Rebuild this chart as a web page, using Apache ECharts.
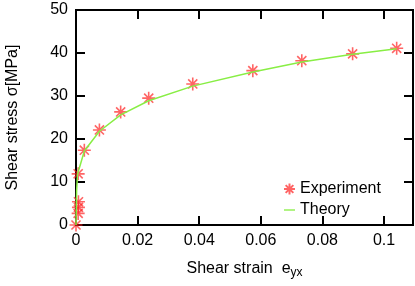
<!DOCTYPE html>
<html><head><meta charset="utf-8">
<script src="https://cdn.jsdelivr.net/npm/echarts@6/dist/echarts.min.js"></script>
<style>html,body{margin:0;padding:0;background:#fff}#c{width:415px;height:286px}</style>
</head><body><div id="c"></div>
<script>
const expStrain = [0, 0.0007, 0.0008, 0.0008, 0.0007, 0.0027, 0.0076, 0.0145, 0.0236, 0.0379, 0.0574, 0.0733, 0.0898, 0.1041];
const expStress = [0, 2.7, 4.1, 5.4, 11.9, 17.4, 22.1, 26.3, 29.5, 32.8, 35.9, 38.2, 39.8, 41.1];
const thStrain = [0, 0.0002, 0.0005, 0.0027, 0.0076, 0.0145, 0.0236, 0.0379, 0.0574, 0.0733, 0.0898, 0.1041];
const thStress = [0, 8.0, 11.8, 17.2, 21.8, 25.6, 28.9, 32.3, 35.6, 37.9, 39.7, 41.0];
const xTicks = [0, 0.02, 0.04, 0.06, 0.08, 0.1];
const yTicks = [0, 10, 20, 30, 40, 50];

const star = 'path://M0,-10L0,10M-10,0L10,0M-7,-7L7,7M-7,7L7,-7';
const font = 'Liberation Sans, Arial, sans-serif';
function axisCommon() {
  return {
    axisLine: {show: true, onZero: false, lineStyle: {color: '#000', width: 2}},
    axisTick: {show: true, inside: true, length: 9, lineStyle: {color: '#000', width: 2}},
    splitLine: {show: false}
  };
}
const chart = echarts.init(document.getElementById('c'));
chart.setOption({
  animation: false,
  grid: {left: 76, right: 2, top: 10, bottom: 61, outerBoundsMode: 'none',
    show: true, borderColor: '#000', borderWidth: 2},
  legend: {
    orient: 'vertical', left: 278, top: 176, itemGap: 5, itemWidth: 11, itemHeight: 11,
    textStyle: {fontFamily: font, fontSize: 16, color: '#000'},
    data: [
      {name: 'Experiment'},
      {name: 'Theory', icon: 'path://M0,5.4L10,5.4L10,6.6L0,6.6Z'}
    ]
  },
  xAxis: [
    Object.assign({type: 'value', min: 0, max: 0.1094, interval: 0.02, position: 'bottom',
      name: '{a|Shear strain  e}{s|yx}', nameLocation: 'middle', nameGap: 34,
      nameTextStyle: {rich: {
        a: {fontFamily: font, fontSize: 16, color: '#000'},
        s: {fontFamily: font, fontSize: 12, color: '#000', padding: [8, 0, 0, 0]}}},
      axisLabel: {fontFamily: font, fontSize: 16, color: '#000', showMaxLabel: false,
        formatter: v => (xTicks.some(t => Math.abs(t - v) < 1e-9) ? String(+v.toFixed(2)) : '')}
    }, axisCommon()),
    Object.assign({type: 'value', min: 0, max: 0.1094, interval: 0.02, position: 'top',
      axisLabel: {show: false}}, axisCommon())
  ],
  yAxis: [
    Object.assign({type: 'value', min: 0, max: 50, interval: 10, position: 'left',
      name: 'Shear stress σ[MPa]', nameLocation: 'middle', nameGap: 55,
      nameTextStyle: {fontFamily: font, fontSize: 16, color: '#000'},
      axisLabel: {fontFamily: font, fontSize: 16, color: '#000',
        formatter: v => (yTicks.indexOf(v) >= 0 ? String(v) : '')}
    }, axisCommon()),
    Object.assign({type: 'value', min: 0, max: 50, interval: 10, position: 'right',
      axisLabel: {show: false}}, axisCommon())
  ],
  series: [
    {name: 'Theory', type: 'line', symbol: 'none',
      lineStyle: {color: '#88ee44', width: 1.5}, itemStyle: {color: '#88ee44'},
      data: thStrain.map((x, i) => [x, thStress[i]])},
    {name: 'Experiment', type: 'scatter', symbol: star, symbolSize: 13,
      itemStyle: {color: 'rgba(255,0,0,0)', borderColor: 'rgba(255,30,30,0.85)', borderWidth: 1.6},
      data: expStrain.map((x, i) => [x, expStress[i]])}
  ]
});
</script></body></html>
